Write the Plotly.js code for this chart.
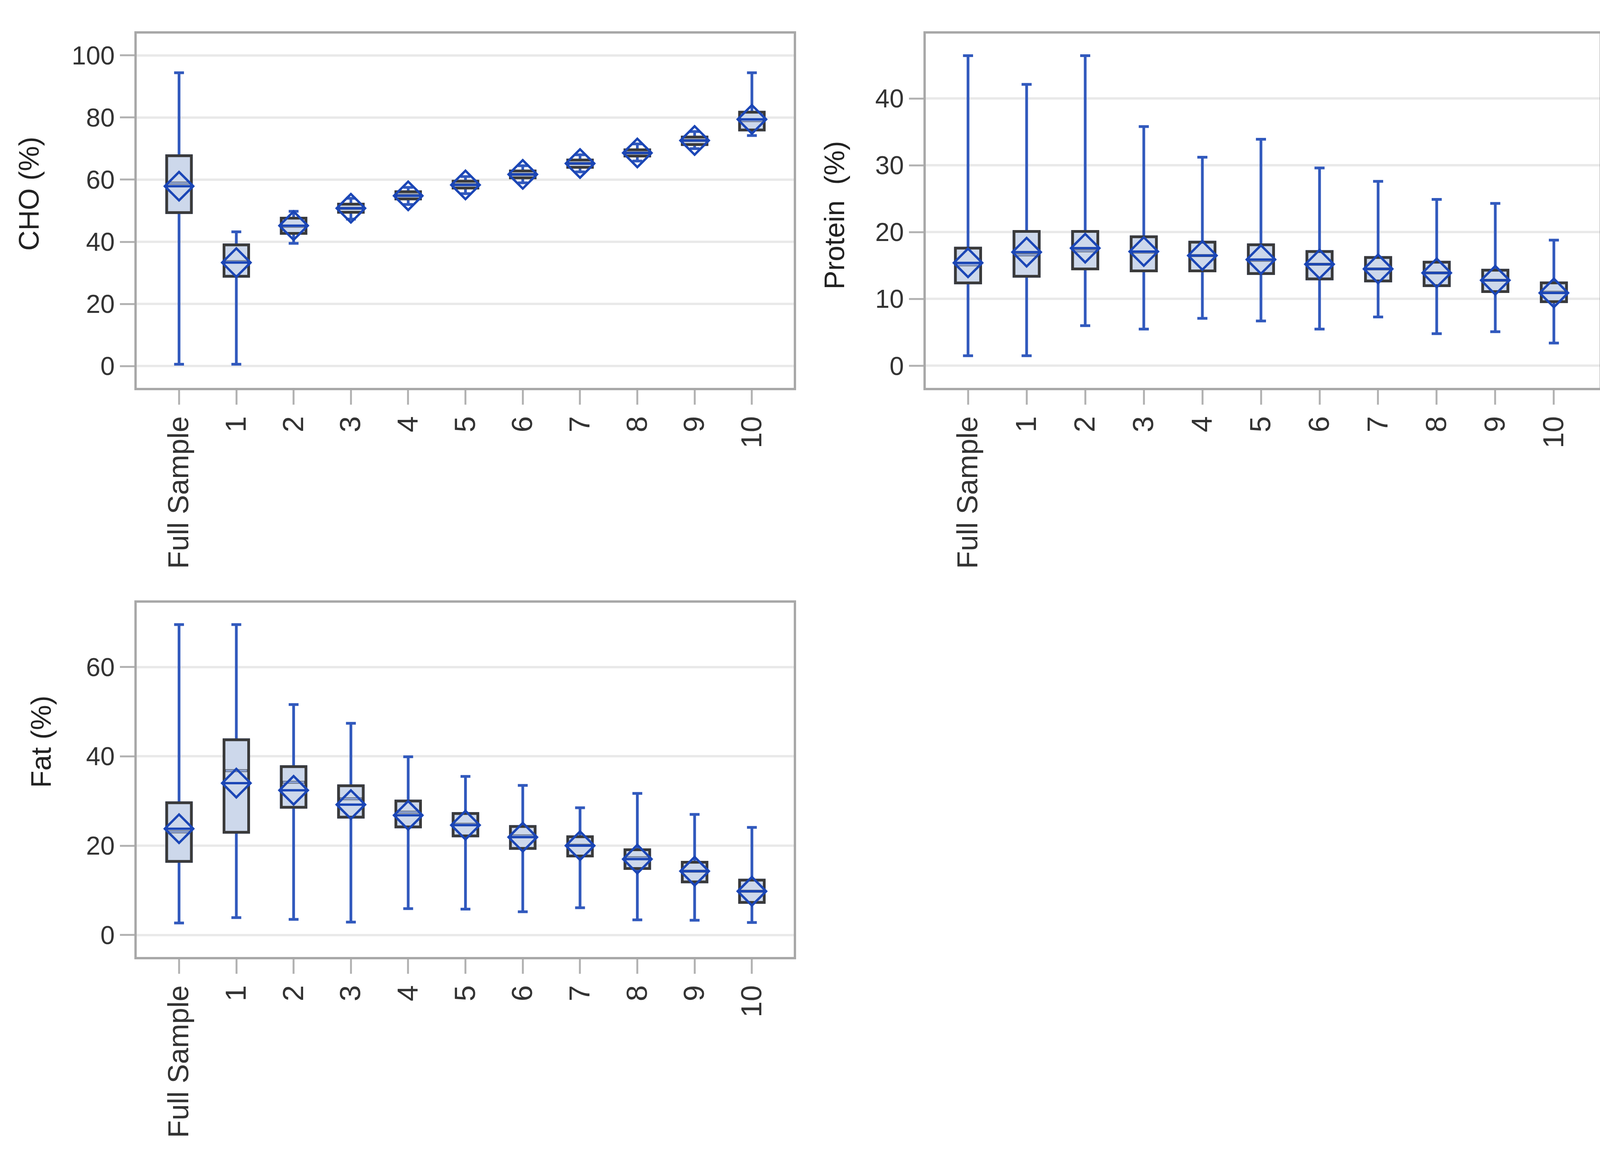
<!DOCTYPE html>
<html>
<head>
<meta charset="utf-8">
<script src="https://cdn.plot.ly/plotly-3.0.1.min.js"></script>
<style>html,body{margin:0;padding:0;background:#fff;}#chart{width:4135px;height:2957px;}</style>
</head>
<body>
<div id="chart"></div>
<script>
// ---- Data ----
const categories = ['Full Sample','1','2','3','4','5','6','7','8','9','10'];

const choMin  = [0.6, 0.6, 39.5, 47.3, 52.0, 55.5, 59.0, 62.5, 66.0, 70.0, 74.2];
const choQ1   = [49.4, 28.9, 42.7, 49.5, 53.8, 57.3, 60.6, 64.0, 67.6, 71.3, 76.0];
const choMed  = [58.9, 33.6, 45.0, 50.8, 55.0, 58.4, 61.7, 65.2, 68.6, 72.6, 79.0];
const choQ3   = [67.7, 39.0, 47.6, 52.1, 56.1, 59.5, 62.8, 66.3, 69.6, 73.7, 81.7];
const choMax  = [94.4, 43.2, 49.8, 54.0, 57.5, 61.0, 64.5, 68.0, 71.5, 75.5, 94.4];
const choMean = [57.9, 33.3, 45.2, 50.8, 54.8, 58.3, 61.7, 65.2, 68.6, 72.6, 79.4];

const proMin  = [1.5, 1.5, 6.0, 5.5, 7.1, 6.7, 5.5, 7.3, 4.8, 5.1, 3.4];
const proQ1   = [12.4, 13.4, 14.5, 14.2, 14.2, 13.8, 13.0, 12.7, 12.0, 11.1, 9.6];
const proMed  = [15.1, 16.6, 17.2, 17.0, 16.5, 15.8, 15.2, 14.5, 13.9, 12.8, 11.0];
const proQ3   = [17.6, 20.1, 20.1, 19.3, 18.5, 18.1, 17.1, 16.2, 15.5, 14.3, 12.4];
const proMax  = [46.4, 42.1, 46.4, 35.8, 31.2, 33.9, 29.6, 27.6, 24.9, 24.3, 18.8];
const proMean = [15.4, 17.0, 17.6, 17.1, 16.5, 15.9, 15.2, 14.5, 13.9, 12.8, 10.9];

const fatMin  = [2.7, 3.9, 3.5, 2.9, 5.9, 5.8, 5.2, 6.1, 3.4, 3.3, 2.8];
const fatQ1   = [16.5, 23.0, 28.6, 26.4, 24.2, 22.2, 19.4, 17.7, 14.9, 11.9, 7.3];
const fatMed  = [23.1, 36.8, 34.2, 30.5, 27.5, 24.8, 22.2, 20.1, 17.3, 14.3, 9.8];
const fatQ3   = [29.6, 43.7, 37.7, 33.4, 30.0, 27.2, 24.3, 22.0, 19.1, 16.3, 12.3];
const fatMax  = [69.5, 69.5, 51.6, 47.4, 39.9, 35.5, 33.5, 28.5, 31.7, 27.0, 24.1];
const fatMean = [23.8, 34.0, 32.4, 29.2, 26.8, 24.6, 21.9, 20.0, 17.0, 14.3, 9.8];

const choTicks = [0, 20, 40, 60, 80, 100];
const proTicks = [0, 10, 20, 30, 40];
const fatTicks = [0, 20, 40, 60];

const axisTitles = ['CHO (%)', 'Protein\u00a0 (%)', 'Fat (%)'];

// ---- Styles ----
const WHISK = '#3159bd';
const DIAM = '#1b46b6';
const FILL = '#cdd8eb';
const EDGE = '#3a3a3a';
const MEDC = '#8ea3d3';
const BOXW = 0.43;

function panel(xa, ya, mn, q1, md, q3, mx, mean) {
  return [
    { type: 'box', x: categories, q1: q1, median: md, q3: q3, lowerfence: mn, upperfence: mx,
      xaxis: xa, yaxis: ya, width: BOXW, whiskerwidth: 0.4, fillcolor: FILL,
      line: { color: WHISK, width: 7 }, boxpoints: false, showlegend: false, hoverinfo: 'skip' },
    { type: 'box', x: categories, q1: q1, median: md, q3: q3, lowerfence: q1, upperfence: q3,
      xaxis: xa, yaxis: ya, width: BOXW, whiskerwidth: 0, fillcolor: FILL,
      line: { color: EDGE, width: 7 }, boxpoints: false, showlegend: false, hoverinfo: 'skip' },
    { type: 'scatter', mode: 'markers', x: categories, y: md, xaxis: xa, yaxis: ya,
      marker: { symbol: 'line-ew', size: 39, line: { color: MEDC, width: 5 } },
      showlegend: false, hoverinfo: 'skip' },
    { type: 'scatter', mode: 'markers', x: categories, y: mean, xaxis: xa, yaxis: ya,
      marker: { symbol: 'diamond-open', size: 56, color: DIAM, line: { color: DIAM, width: 6 } },
      showlegend: false, hoverinfo: 'skip' },
    { type: 'scatter', mode: 'markers', x: categories, y: mean, xaxis: xa, yaxis: ya,
      marker: { symbol: 'line-ew', size: 54, line: { color: DIAM, width: 6 } },
      showlegend: false, hoverinfo: 'skip' }
  ];
}

const data = [].concat(
  panel('x', 'y', choMin, choQ1, choMed, choQ3, choMax, choMean),
  panel('x2', 'y2', proMin, proQ1, proMed, proQ3, proMax, proMean),
  panel('x3', 'y3', fatMin, fatQ1, fatMed, fatQ3, fatMax, fatMean)
);

const FONT = 'Liberation Sans, Arial, sans-serif';
function xax(dom, anchor, range) {
  return { domain: dom, anchor: anchor, type: 'category', range: range, tickangle: -90,
    ticks: 'outside', ticklen: 37, tickwidth: 5, tickcolor: '#b3b3b3',
    showline: true, mirror: true, linecolor: '#a8a8a8', linewidth: 6,
    showgrid: false, zeroline: false, tickfont: { size: 74, color: '#333', family: FONT },
    fixedrange: true };
}
function yax(dom, anchor, range, ticks) {
  return { domain: dom, anchor: anchor, range: range, tickvals: ticks,
    ticks: 'outside', ticklen: 37, tickwidth: 5, tickcolor: '#b3b3b3',
    showline: true, mirror: true, linecolor: '#a8a8a8', linewidth: 6,
    showgrid: true, gridcolor: '#e9e9e9', gridwidth: 6, zeroline: false,
    tickfont: { size: 66, color: '#333', family: FONT },
    fixedrange: true };
}
function titleNote(text, x, y) {
  return { text: text, xref: 'paper', yref: 'paper', x: x, y: y, xanchor: 'center', yanchor: 'middle',
    textangle: -90, showarrow: false, font: { size: 72, color: '#222', family: FONT } };
}

const layout = {
  width: 4135, height: 2957,
  margin: { l: 0, r: 0, t: 0, b: 0 },
  paper_bgcolor: '#ffffff', plot_bgcolor: '#ffffff',
  font: { family: FONT },
  boxmode: 'overlay',
  showlegend: false,
  xaxis:  xax([0.0846, 0.4914], 'y',  [-0.74, 10.73]),
  yaxis:  yax([0.6642, 0.9709], 'x',  [-7, 107], choTicks),
  xaxis2: xax([0.5732, 0.9903], 'y2', [-0.72, 10.78]),
  yaxis2: yax([0.6642, 0.9709], 'x2', [-3.3, 49.7], proTicks),
  xaxis3: xax([0.0846, 0.4914], 'y3', [-0.74, 10.73]),
  yaxis3: yax([0.1715, 0.4782], 'x3', [-4.9, 74.4], fatTicks),
  annotations: [
    titleNote(axisTitles[0], 0.0179, 0.8323),
    titleNote(axisTitles[1], 0.5166, 0.8137),
    titleNote(axisTitles[2], 0.0254, 0.3578)
  ]
};

Plotly.newPlot('chart', data, layout, { displayModeBar: false, staticPlot: true });
</script>
</body>
</html>
